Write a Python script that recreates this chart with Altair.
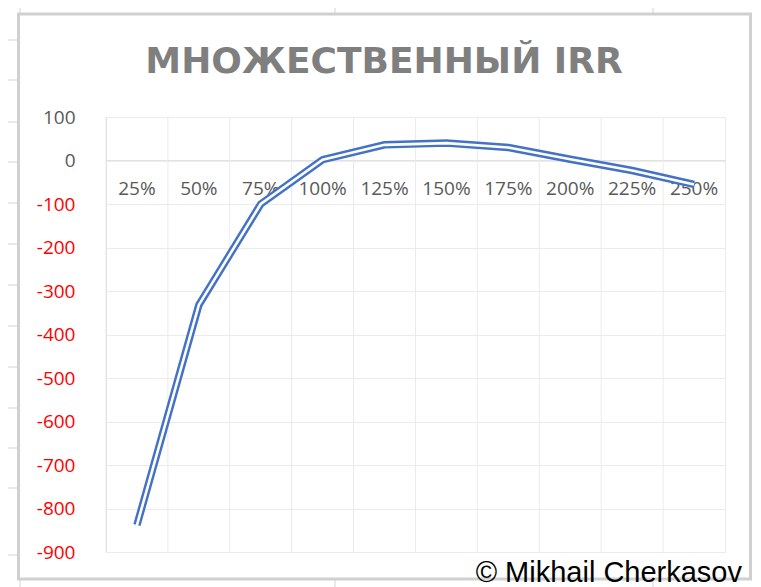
import altair as alt
import pandas as pd

# ---- data ----
categories = ["25%", "50%", "75%", "100%", "125%", "150%", "175%", "200%", "225%", "250%"]
irr_values = [-838, -332, -100, 2, 36, 40, 30, 3, -23, -55]
y_ticks = [100, 0, -100, -200, -300, -400, -500, -600, -700, -800, -900]
title_text = "МНОЖЕСТВЕННЫЙ IRR"
credit_text = "© Mikhail Cherkasov"

df = pd.DataFrame({"cat": categories, "irr": irr_values})

W, H = 619, 435
GRID = "#EBEBEB"
AXIS_LINE = "#D9D9D9"
SHEET = "#D4D4D4"
BLUE = "#4472C4"
LABEL = "#595959"

x_scale = alt.Scale(type="band", paddingInner=0, paddingOuter=0)
x_axis = alt.Axis(
    title=None, grid=False, ticks=False, labelAngle=0,
    labelFont="Open Sans", labelFontSize=19, labelColor=LABEL,
    labelPadding=19, domainColor=AXIS_LINE, domainWidth=1,
    offset=-391.5, labelOverlap=False,
)
y_axis = alt.Axis(
    title=None, values=y_ticks, grid=True, gridColor=GRID, gridWidth=1,
    ticks=False, domain=True, domainColor=AXIS_LINE, domainWidth=1,
    labelFont="Open Sans", labelFontSize=19, labelPadding=31,
    labelColor=alt.condition("datum.value < 0", alt.value("#FF0000"), alt.value(LABEL)),
    labelExpr="datum.value + ''",
)
x_enc = alt.X("cat:N", sort=categories, scale=x_scale, axis=x_axis)
y_enc = alt.Y("irr:Q", scale=alt.Scale(domain=[-900, 100], nice=False, zero=False), axis=y_axis)

one = pd.DataFrame({"d": [0]})


def seg(x1, x2, y1, y2, color=SHEET, width=1):
    return alt.Chart(one).mark_rule(color=color, strokeWidth=width).encode(
        x=alt.value(x1), x2=alt.value(x2), y=alt.value(y1), y2=alt.value(y2)
    )


# spreadsheet background lines (decoration, outside the chart frame)
deco = []
for cx in [-86, 229, 547]:
    deco.append(seg(cx, cx, -109, -104))
    deco.append(seg(cx, cx, 463, 470))
for ry in [-77, -37, 5, 45, 86, 127, 168, 209, 250, 291, 331, 371, 438]:
    deco.append(seg(-98, -89, ry, ry))

frame = alt.Chart(one).mark_rect(fill="white", fillOpacity=0, stroke="#D0D0D0", strokeWidth=3).encode(
    x=alt.value(-87.5), x2=alt.value(644.5), y=alt.value(-103), y2=alt.value(462)
)

vgrid = alt.Chart(df).mark_rule(color=GRID, strokeWidth=1).encode(
    x=alt.X("cat:N", sort=categories, scale=x_scale, axis=x_axis, bandPosition=0)
)

line_outer = alt.Chart(df).mark_line(
    color=BLUE, strokeWidth=7.5, strokeCap="butt", strokeJoin="miter"
).encode(x=x_enc, y=y_enc)
line_inner = alt.Chart(df).mark_line(
    color="white", strokeWidth=2.6, strokeCap="butt", strokeJoin="miter"
).encode(x=x_enc, y=y_enc)

title = alt.Chart(pd.DataFrame({"t": [title_text]})).mark_text(
    font="DejaVu Sans", fontSize=36, fontWeight="bold", color="#7F7F7F",
    align="center", baseline="alphabetic",
).encode(x=alt.value(278), y=alt.value(-44), text="t:N")

credit = alt.Chart(pd.DataFrame({"t": [credit_text]})).mark_text(
    font="Liberation Sans", fontSize=29, color="#000000",
    align="right", baseline="alphabetic",
).encode(x=alt.value(636), y=alt.value(464.5), text="t:N")

chart = alt.layer(
    *deco, frame, vgrid, line_outer, line_inner, title, credit
).properties(
    width=W, height=H,
    padding={"left": 98, "top": 109, "right": 28, "bottom": 35},
    autosize=alt.AutoSizeParams(type="none"),
    background="white",
).configure_view(stroke=GRID, strokeWidth=1)

chart.save("out.html", embed_options={"renderer": "svg", "actions": False})
